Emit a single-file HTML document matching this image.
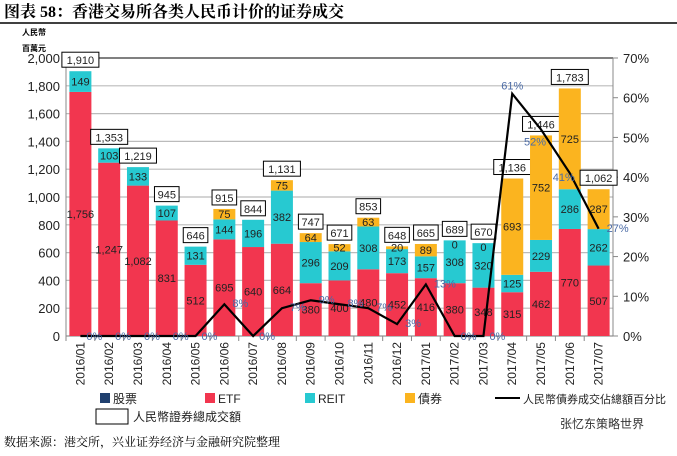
<!DOCTYPE html>
<html><head><meta charset="utf-8"><style>
body{margin:0;width:677px;height:451px;background:#fff;overflow:hidden;font-family:"Liberation Sans","Noto Sans CJK SC",sans-serif}
text{font-family:"Liberation Sans","Noto Sans CJK SC",sans-serif}
</style></head><body>
<svg id="c" width="677" height="451">
<text x="4" y="17" font-size="16" font-weight="bold" style="font-family:'Liberation Serif','Noto Serif CJK SC',serif">图表 58：香港交易所各类人民币计价的证券成交</text>
<line x1="0" y1="23" x2="677" y2="23" stroke="#000" stroke-width="1.5"/>
<text x="22" y="35" font-size="8" font-weight="bold">人民幣</text>
<text x="22" y="51" font-size="8" font-weight="bold">百萬元</text>
<text x="4" y="446" font-size="12" style="font-family:'Liberation Serif','Noto Serif CJK SC',serif">数据来源：港交所，兴业证券经济与金融研究院整理</text>
<text x="560" y="428" font-size="12" fill="#333">张忆东策略世界</text>
<g id="g"></g>
</svg>
<script>
const cats=["2016/01","2016/02","2016/03","2016/04","2016/05","2016/06","2016/07","2016/08","2016/09","2016/10","2016/11","2016/12","2017/01","2017/02","2017/03","2017/04","2017/05","2017/06","2017/07"];
const etf=[1756,1247,1082,831,512,695,640,664,380,400,480,452,416,380,348,315,462,770,507];
const reit=[149,103,133,107,131,144,196,382,296,209,308,173,157,308,320,125,229,286,262];
const bond=[0,0,0,0,0,75,0,75,64,52,63,20,89,0,0,693,752,725,287];
const totals=[1910,1353,1219,945,646,915,844,1131,747,671,853,648,665,689,670,1136,1446,1783,1062];
const pct=[0,0,0,0,0,8,0,7,9,8,7,3,13,0,0,61,52,41,27];
const yTicks=[0,200,400,600,800,1000,1200,1400,1600,1800,2000];
const rTicks=[0,10,20,30,40,50,60,70];
const X0=66,X1=613,Y0=336,Y1=58;
const bw=(X1-X0)/cats.length;
const xc=i=>X0+bw*(i+0.5);
const y=v=>Y0-(Y0-Y1)*v/2000;
const yr=v=>Y0-(Y0-Y1)*v/70;
const g=document.getElementById('g');
const NS='http://www.w3.org/2000/svg';
function mk(t,a,txt){const e=document.createElementNS(NS,t);for(const k in a)e.setAttribute(k,a[k]);if(txt!==undefined)e.textContent=txt;g.appendChild(e);return e;}
yTicks.forEach(v=>{
 const l=mk('line',{x1:X0,x2:X1,y1:y(v),y2:y(v),stroke:v==2000?'#000':'#bbb','stroke-width':v==2000?1:1.2});
 
 
 const t=mk('text',{x:X0-6,y:y(v)+5,'text-anchor':'end','font-size':13,fill:'#222'},v.toLocaleString('en-US'));
 
 
});
rTicks.forEach(v=>{
 const l=mk('line',{x1:X1,x2:X1+5,y1:yr(v),y2:yr(v),stroke:'#888'});
 
 
 const t=mk('text',{x:X1+10,y:yr(v)+5,'font-size':13,fill:'#222'},v+'%');
 
 
});
[[X0,'left-axis'],[X1,'right-axis']].forEach(([x,n])=>{const l=mk('line',{x1:x,x2:x,y1:Y1,y2:Y0,stroke:'#888'});});
const xa=mk('line',{x1:X0,x2:X1,y1:Y0,y2:Y0,stroke:'#888'});


const bwid=22;
cats.forEach((c,i)=>{
 const cx=xc(i);let base=0;
 [[etf,'#f2364f','etf'],[reit,'#27c9d1','reit'],[bond,'#fbb41f','bond']].forEach(([arr,col,n])=>{
  const v=arr[i];
  const r=mk('rect',{x:cx-bwid/2,y:y(base+v),width:bwid,height:y(base)-y(base+v),fill:col});
  
  
  if(n!='bond'||v>0||i==13||i==14){
   const ty=v>0?(y(base)+y(base+v))/2+4:y(base)+8;
   const t=mk('text',{x:cx,y:ty,'text-anchor':'middle','font-size':11,fill:'#222'},v.toLocaleString('en-US'));
   
   
  }
  base+=v;
 });
 const tl=String(totals[i].toLocaleString('en-US'));
 const top=y(base)-8;
 const w=tl.length*6.2+6;
 const b=mk('rect',{x:cx-w/2,y:top-11,width:w,height:15,fill:'#fff',stroke:'#000','stroke-width':1});
 
 
 const tt=mk('text',{x:cx,y:top+1,'text-anchor':'middle','font-size':11,fill:'#222'},tl);
 
 
 const xl=mk('text',{transform:`translate(${cx+4},${Y0+6}) rotate(-90)`,'text-anchor':'end','font-size':12,fill:'#222'},c);
 
 
 const tk=mk('line',{x1:X0+bw*i,x2:X0+bw*i,y1:Y0,y2:Y0+5,stroke:'#888'});
 
 
});
const pl=mk('polyline',{points:pct.map((v,i)=>xc(i)+','+yr(v)).join(' '),fill:'none',stroke:'#000','stroke-width':2.2});


pct.forEach((v,i)=>{
 let dx=8,dy=-1;
 if(v==0){dx=6;dy=0;}
 if(i==15){dx=0;dy=-8;} if(i==16){dx=-6;dy=12;} if(i==17){dx=-6;dy=4;}
 const t=mk('text',{x:xc(i)+dx,y:yr(v)+dy+4,'font-size':11,fill:'#4a6aa5','text-anchor':i>=15&&i<18?'middle':'start'},v+'%');
 
 
});
const leg=[['#1f3f6e','股票',100],['#f2364f','ETF',205],['#27c9d1','REIT',305],['#fbb41f','債券',405]];
leg.forEach(([c,n,x])=>{
 const r=mk('rect',{x:x,y:393,width:10,height:10,fill:c});
 
 
 const t=mk('text',{x:x+13,y:403,'font-size':12,fill:'#222'},n);
 
 
});
const ll=mk('line',{x1:495,x2:520,y1:398,y2:398,stroke:'#000','stroke-width':2});


const lt=mk('text',{x:523,y:403,'font-size':11,fill:'#222'},'人民幣債券成交佔總額百分比');


const lb=mk('rect',{x:96,y:409,width:32,height:15,fill:'#fff',stroke:'#000'});


const lbt=mk('text',{x:133,y:421,'font-size':12,fill:'#222'},'人民幣證券總成交額');


</script>
</body></html>
